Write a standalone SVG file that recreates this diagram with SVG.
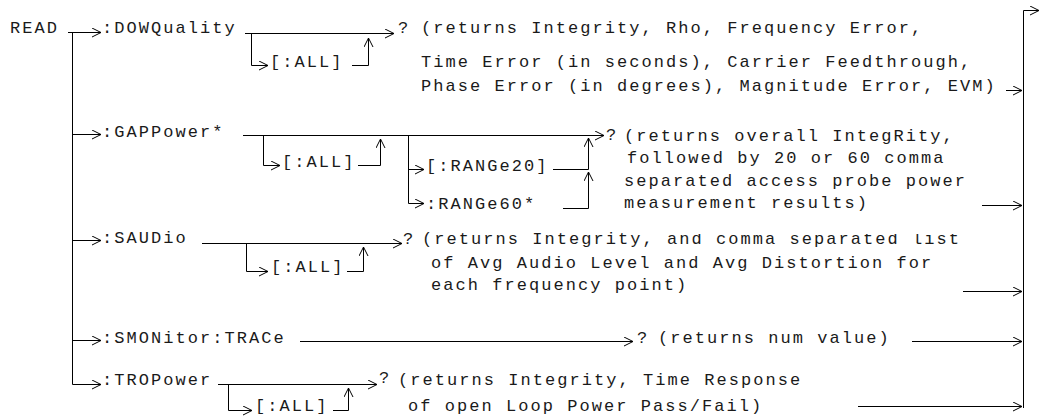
<svg xmlns="http://www.w3.org/2000/svg" width="1041" height="420" viewBox="0 0 1041 420">
<defs>
<marker id="ah" markerWidth="10" markerHeight="10" refX="9" refY="4.5" orient="auto" markerUnits="userSpaceOnUse">
<path d="M0,0 L9,4.5 L0,9" fill="none" stroke="#000" stroke-width="1"/>
</marker>
<clipPath id="clipTop">
<rect x="0" y="0" width="662" height="420"/>
<rect x="662" y="234" width="379" height="186"/>
</clipPath>
</defs>
<style>
text{font-family:"Liberation Mono","Courier New",monospace;font-size:17px;letter-spacing:2.05px;fill:#1a1a1a}
.c{fill:none;stroke:#000;stroke-width:1}
.a{marker-end:url(#ah)}
</style>
<rect width="1041" height="420" fill="#fff"/>
<g id="connectors" class="c">
<path class="a" d="M68,32.5 H101"/>
<path class="a" d="M72.5,32.5 V384.5 H101"/>
<path class="a" d="M72.5,134.5 H101"/>
<path class="a" d="M72.5,240.5 H101"/>
<path class="a" d="M72.5,340.5 H101"/>
<path class="a" d="M245,33.5 H394"/>
<path class="a" d="M251.5,33.5 V65.5 H268"/>
<path class="a" d="M352,65.5 H368.5 V38"/>
<path class="a" d="M1006,90.5 H1022"/>
<path class="a" d="M243,135.5 H604"/>
<path class="a" d="M263.5,135.5 V165.5 H280"/>
<path class="a" d="M358,165.5 H380.5 V139"/>
<path class="a" d="M408.5,135.5 V203.5 H424"/>
<path class="a" d="M408.5,169.5 H424"/>
<path d="M553,169.5 H588.5"/>
<path class="a" d="M563,208.5 H588.5 V172"/>
<path class="a" d="M588.5,169.5 V138"/>
<path class="a" d="M982,205.5 H1022"/>
<path class="a" d="M202,243.5 H402"/>
<path class="a" d="M246.5,243.5 V271.5 H268"/>
<path class="a" d="M347,271.5 H363.5 V247"/>
<path class="a" d="M963,291.5 H1022"/>
<path class="a" d="M300,341.5 H633"/>
<path class="a" d="M912,341.5 H1022"/>
<path class="a" d="M218,384.5 H377"/>
<path class="a" d="M228.5,384.5 V410.5 H252"/>
<path class="a" d="M333,410.5 H348.5 V388"/>
<path class="a" d="M858,406.5 H1022"/>
<path class="a" d="M1023.5,408 V10.5 H1039"/>
</g>
<g id="read"><text x="10" y="33">READ</text></g>
<g id="dowquality">
<text x="102" y="33">:DOWQuality</text>
<text x="270" y="67">[:ALL]</text>
<text x="398" y="33">?</text>
<text x="421" y="33">(returns Integrity, Rho, Frequency Error,</text>
<text x="421" y="67">Time Error (in seconds), Carrier Feedthrough,</text>
<text x="421" y="91">Phase Error (in degrees), Magnitude Error, EVM)</text>
</g>
<g id="gappower">
<text x="102" y="137">:GAPPower*</text>
<text x="282" y="167">[:ALL]</text>
<text x="426" y="171">[:RANGe20]</text>
<text x="426" y="209">:RANGe60*</text>
<text x="606" y="140">?</text>
<text x="624" y="141">(returns overall IntegRity,</text>
<text x="627" y="163">followed by 20 or 60 comma</text>
<text x="624" y="186">separated access probe power</text>
<text x="624" y="208">measurement results)</text>
</g>
<g id="saudio">
<text x="102" y="243">:SAUDio</text>
<text x="271" y="272">[:ALL]</text>
<text x="403" y="244">?</text>
<text x="422" y="244" clip-path="url(#clipTop)">(returns Integrity, and comma separated list</text>
<text x="431" y="268">of Avg Audio Level and Avg Distortion for</text>
<text x="431" y="290">each frequency point)</text>
</g>
<g id="smonitor">
<text x="102" y="343">:SMONitor:TRACe</text>
<text x="637" y="343">?</text>
<text x="658" y="343">(returns num value)</text>
</g>
<g id="tropower">
<text x="102" y="385">:TROPower</text>
<text x="255" y="411">[:ALL]</text>
<text x="379" y="383">?</text>
<text x="398" y="385">(returns Integrity, Time Response</text>
<text x="408" y="411">of open Loop Power Pass/Fail)</text>
</g>
</svg>
